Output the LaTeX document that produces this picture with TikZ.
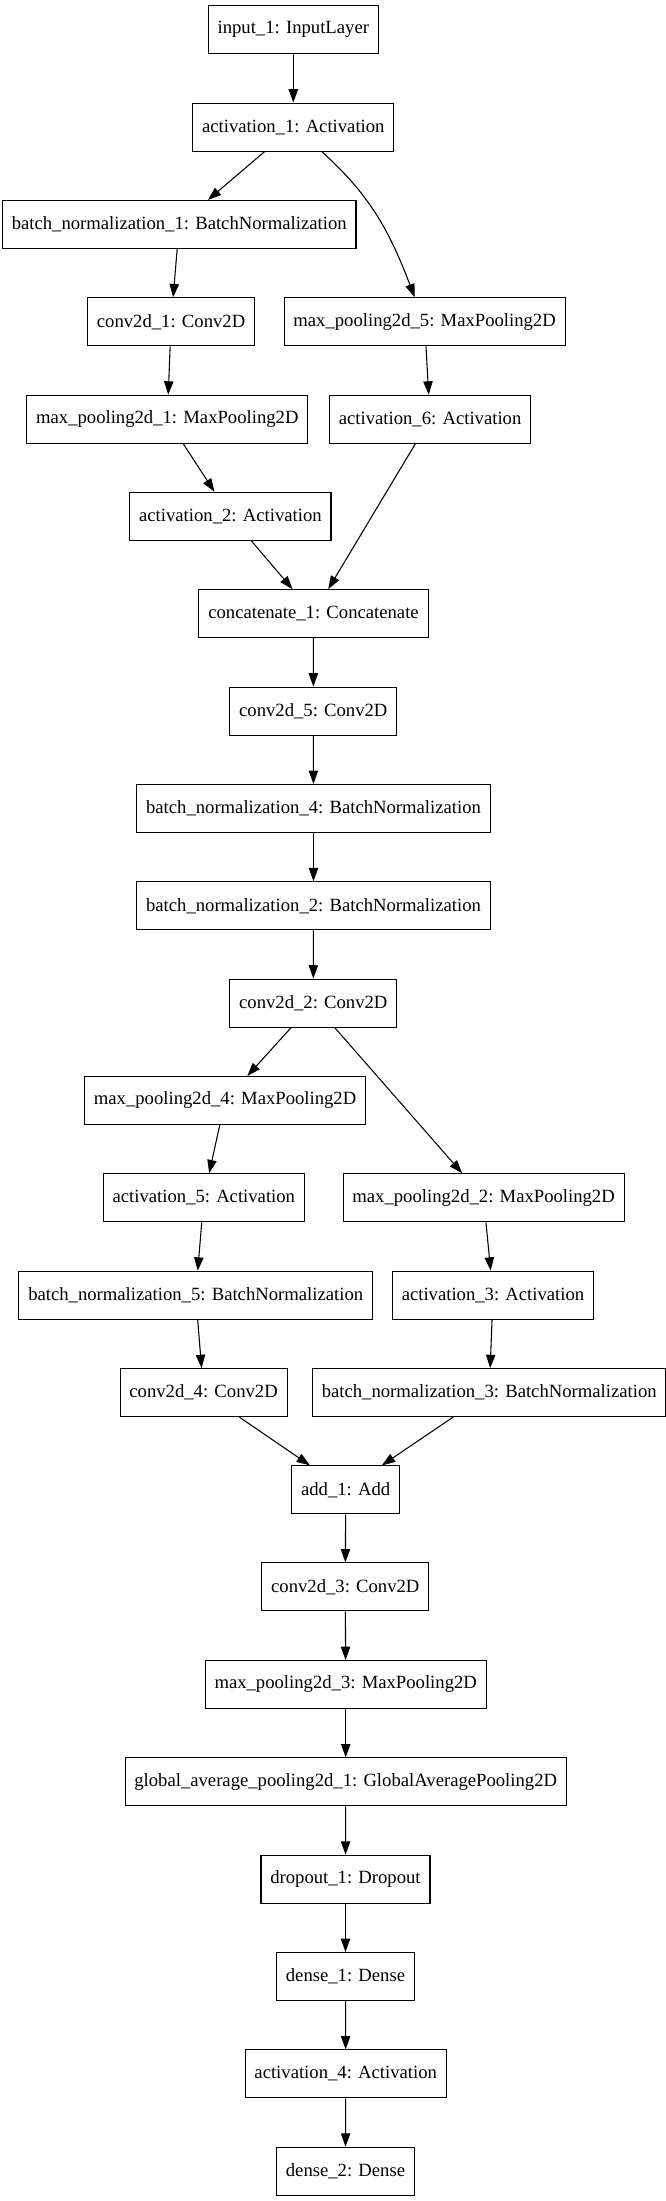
\documentclass[tikz,border=0pt]{standalone}
\usepackage{fontspec}
\setmainfont{Liberation Serif}
\usetikzlibrary{arrows.meta}
\tikzset{
  lay/.style={draw=black, line width=0.8pt, rectangle, fill=white, minimum height=36pt,
    inner xsep=7pt, inner ysep=2pt, font=\fontsize{14}{16.8}\selectfont, minimum width=#1},
  lay/.default=100pt,
  conn/.style={draw=black, line width=0.8pt, -{Triangle[length=10pt,width=7pt]}}
}
\begin{document}
\begin{tikzpicture}[x=0.75pt,y=-0.75pt]
\useasboundingbox[fill=white] (0,0) rectangle (665,2201);
\node[lay=126pt] (input) at (293.3,29.8) {input\_1: InputLayer};
\node[lay=149pt] (act1) at (293.3,127.1) {activation\_1: Activation};
\node[lay=261.8pt] (bn1) at (179.2,224.5) {batch\_normalization\_1: BatchNormalization};
\node[lay=124.4pt] (conv1) at (171.1,321.8) {conv2d\_1: Conv2D};
\node[lay=208.5pt] (mp5) at (424.6,321.8) {max\_pooling2d\_5: MaxPooling2D};
\node[lay=208pt] (mp1) at (167.3,419.2) {max\_pooling2d\_1: MaxPooling2D};
\node[lay=149pt] (act6) at (430.1,419.2) {activation\_6: Activation};
\node[lay=148.6pt] (act2) at (230.4,516.3) {activation\_2: Activation};
\node[lay=169pt] (concat) at (313.5,613.7) {concatenate\_1: Concatenate};
\node[lay=124pt] (conv5) at (313.3,711.1) {conv2d\_5: Conv2D};
\node[lay=261.8pt] (bn4) at (313.5,808.5) {batch\_normalization\_4: BatchNormalization};
\node[lay=261.8pt] (bn2) at (313.5,905.8) {batch\_normalization\_2: BatchNormalization};
\node[lay=124pt] (conv2) at (313.3,1003.1) {conv2d\_2: Conv2D};
\node[lay=208.4pt] (mp4) at (225.1,1100.5) {max\_pooling2d\_4: MaxPooling2D};
\node[lay=149pt] (act5) at (203.8,1197.8) {activation\_5: Activation};
\node[lay=208.8pt] (mp2) at (483.6,1197.8) {max\_pooling2d\_2: MaxPooling2D};
\node[lay=261.5pt] (bn5) at (195.7,1295.2) {batch\_normalization\_5: BatchNormalization};
\node[lay=149pt] (act3) at (493,1295.2) {activation\_3: Activation};
\node[lay=124pt] (conv4) at (203.6,1392.6) {conv2d\_4: Conv2D};
\node[lay=261.8pt] (bn3) at (489.2,1392.6) {batch\_normalization\_3: BatchNormalization};
\node[lay=80.6pt] (add) at (345.7,1489.9) {add\_1: Add};
\node[lay=124pt] (conv3) at (345.3,1586.9) {conv2d\_3: Conv2D};
\node[lay=208.5pt] (mp3) at (345.7,1684.5) {max\_pooling2d\_3: MaxPooling2D};
\node[lay=324.8pt] (gap) at (345.7,1781.9) {global\_average\_pooling2d\_1: GlobalAveragePooling2D};
\node[lay=125.6pt] (drop) at (345.5,1879.2) {dropout\_1: Dropout};
\node[lay=102.7pt] (dense1) at (345.5,1976.5) {dense\_1: Dense};
\node[lay=149pt] (act4) at (345.7,2073.9) {activation\_4: Activation};
\node[lay=102.7pt] (dense2) at (345.5,2171.2) {dense\_2: Dense};

\draw[conn] (input) -- (act1);
\draw[conn] (act1) -- (bn1);
\draw[conn] ([xshift=21.4pt]act1.south) to[out=-42,in=111] ([xshift=-7.4pt]mp5.north);
\draw[conn] (bn1) -- (conv1);
\draw[conn] (conv1) -- (mp1);
\draw[conn] (mp5) -- (act6);
\draw[conn] (mp1) -- (act2);
\draw[conn] (act6) -- (concat);
\draw[conn] (act2) -- (concat);
\draw[conn] (concat) -- (conv5);
\draw[conn] (conv5) -- (bn4);
\draw[conn] (bn4) -- (bn2);
\draw[conn] (bn2) -- (conv2);
\draw[conn] (conv2) -- (mp4);
\draw[conn] (conv2) -- (mp2);
\draw[conn] (mp4) -- (act5);
\draw[conn] (mp2) -- (act3);
\draw[conn] (act5) -- (bn5);
\draw[conn] (act3) -- (bn3);
\draw[conn] (bn5) -- (conv4);
\draw[conn] (conv4) -- (add);
\draw[conn] (bn3) -- (add);
\draw[conn] (add) -- (conv3);
\draw[conn] (conv3) -- (mp3);
\draw[conn] (mp3) -- (gap);
\draw[conn] (gap) -- (drop);
\draw[conn] (drop) -- (dense1);
\draw[conn] (dense1) -- (act4);
\draw[conn] (act4) -- (dense2);
\end{tikzpicture}
\end{document}
